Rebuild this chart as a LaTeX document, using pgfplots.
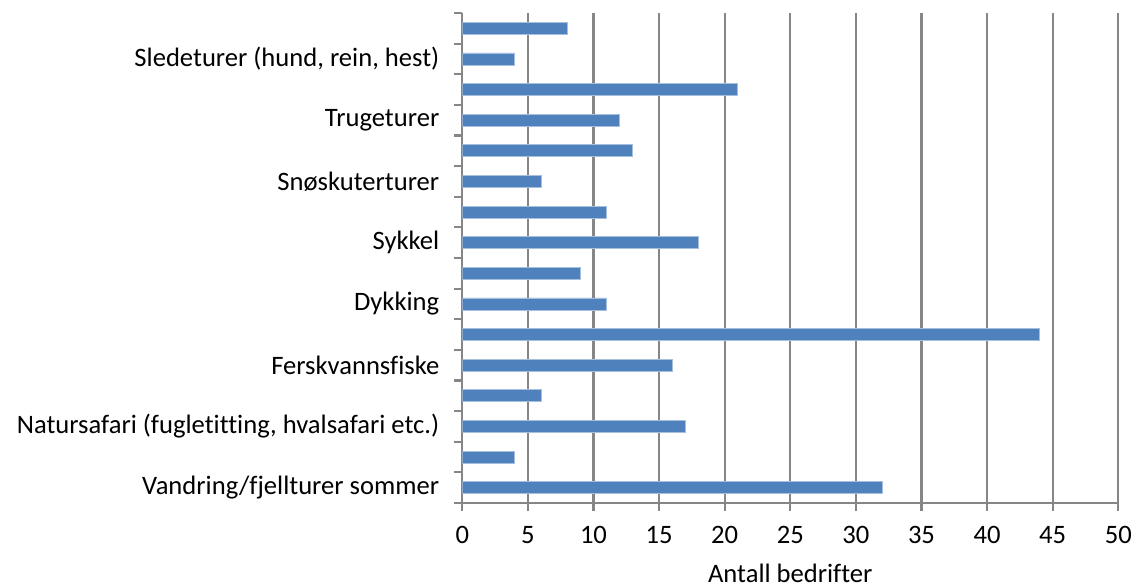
\documentclass[border=0pt]{standalone}
\usepackage{pgfplots}
\pgfplotsset{compat=1.18}
\usepackage{fontspec}
\setmainfont{Carlito}[Ligatures=NoCommon]
\definecolor{barblue}{HTML}{4F81BD}
\definecolor{baredge}{HTML}{A7BFDE}
\definecolor{gridgray}{HTML}{868686}
\begin{document}
\begin{tikzpicture}[x=1pt,y=1pt]
\useasboundingbox (0,0) rectangle (568.5,293);
\begin{axis}[
  at={(231.15pt,41.5pt)}, anchor=south west,
  scale only axis, width=328pt, height=245pt,
  xmin=0, xmax=50, ymin=0.5, ymax=16.5,
  xtick={0,5,...,50},
  ytick={1,3,...,15},
  yticklabels={Vandring/fjellturer sommer, {Natursafari (fugletitting, hvalsafari etc.)}, Ferskvannsfiske, Dykking, Sykkel, Snøskuterturer, Trugeturer, {Sledeturer (hund, rein, hest)}},
  minor ytick={0.5,1.5,...,16.5},
  tick align=outside,
  major tick length=4pt, minor tick length=4pt,
  ytick style={draw=none},
  minor y tick style={draw=gridgray, line width=1.1pt},
  xtick style={draw=gridgray, line width=1.1pt},
  axis x line*=bottom, axis y line*=left,
  axis line style={gridgray, line width=1.1pt},
  xmajorgrids,
  major x grid style={gridgray, line width=1.1pt},
  tick label style={font=\fontsize{13.3}{15}\selectfont, black},
  xticklabel style={yshift=-4pt},
  yticklabel style={xshift=-4pt},
  /pgf/number format/assume math mode=true,
  xlabel={Antall bedrifter},
  xlabel style={at={(axis description cs:0.5,0)}, anchor=base, yshift=-39.5pt, font=\fontsize{13.3}{15}\selectfont},
  xbar, bar width=6pt,
]
\addplot[fill=barblue, draw=baredge, line width=0.4pt] coordinates {
(32,1) (4,2) (17,3) (6,4) (16,5) (44,6) (11,7) (9,8)
(18,9) (11,10) (6,11) (13,12) (12,13) (21,14) (4,15) (8,16)};
\end{axis}
\end{tikzpicture}
\end{document}
